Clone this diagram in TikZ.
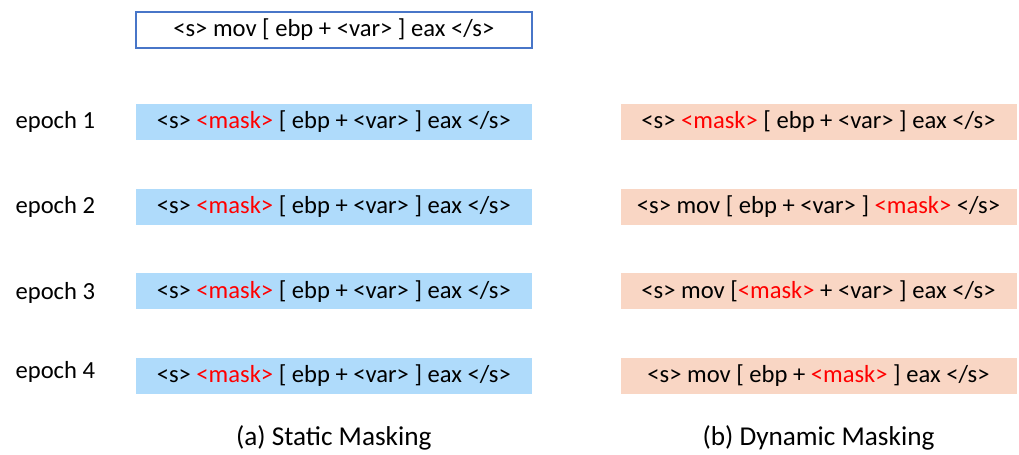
\documentclass[tikz,border=0pt]{standalone}
\usepackage{fontspec}
\setmainfont{Carlito}
\usetikzlibrary{positioning}

\definecolor{staticfill}{RGB}{175,219,251}
\definecolor{dynfill}{RGB}{249,214,196}
\definecolor{origline}{RGB}{72,118,200}
\definecolor{maskred}{RGB}{255,0,0}
\newcommand{\msk}{\textcolor{maskred}{<mask>}}

\begin{document}
\begin{tikzpicture}[node distance=0.96cm and 1.76cm,
  seqbox/.style={rectangle, minimum height=0.72cm, minimum width=7.92cm, inner sep=0pt, text centered, font=\fontsize{14}{16}\selectfont},
  origbox/.style={seqbox, draw=origline, fill=white, line width=0.9pt},
  staticbox/.style={seqbox, fill=staticfill},
  dynbox/.style={seqbox, fill=dynfill},
  epochlabel/.style={font=\fontsize{14}{16}\selectfont, inner sep=0pt},
  caption/.style={font=\fontsize{15.5}{18}\selectfont, inner sep=0pt}]

  \useasboundingbox (0,0) rectangle (20.38,-9.08);

  % Secuencia original
  \node [origbox, anchor=north west] (orig) at (2.7,-0.22) {<s> mov [ ebp + <var> ] eax </s>};

  % Columna izquierda (enmascarado estatico)
  \node [staticbox, below=1.1cm of orig] (st1) {<s> \msk{} [ ebp + <var> ] eax </s>};
  \node [staticbox, below=of st1] (st2) {<s> \msk{} [ ebp + <var> ] eax </s>};
  \node [staticbox, below=of st2] (st3) {<s> \msk{} [ ebp + <var> ] eax </s>};
  \node [staticbox, below=of st3] (st4) {<s> \msk{} [ ebp + <var> ] eax </s>};

  % Columna derecha (enmascarado dinamico)
  \node [dynbox, right=of st1] (dy1) {<s> \msk{} [ ebp + <var> ] eax </s>};
  \node [dynbox, right=of st2] (dy2) {<s> mov [ ebp + <var> ] \msk{} </s>};
  \node [dynbox, right=of st3] (dy3) {<s> mov [\msk{} + <var> ] eax </s>};
  \node [dynbox, right=of st4] (dy4) {<s> mov [ ebp + \msk{} ] eax </s>};

  % Etiquetas de epoca
  \node [epochlabel, left=0.8cm of st1] (ep1) {epoch 1};
  \node [epochlabel, left=0.8cm of st2] (ep2) {epoch 2};
  \node [epochlabel, left=0.8cm of st3, yshift=-0.04cm] (ep3) {epoch 3};
  \node [epochlabel, left=0.8cm of st4, yshift=0.08cm] (ep4) {epoch 4};

  % Titulos
  \node [caption, below=0.62cm of st4] (capa) {(a) Static Masking};
  \node [caption, below=0.62cm of dy4] (capb) {(b) Dynamic Masking};
\end{tikzpicture}
\end{document}
